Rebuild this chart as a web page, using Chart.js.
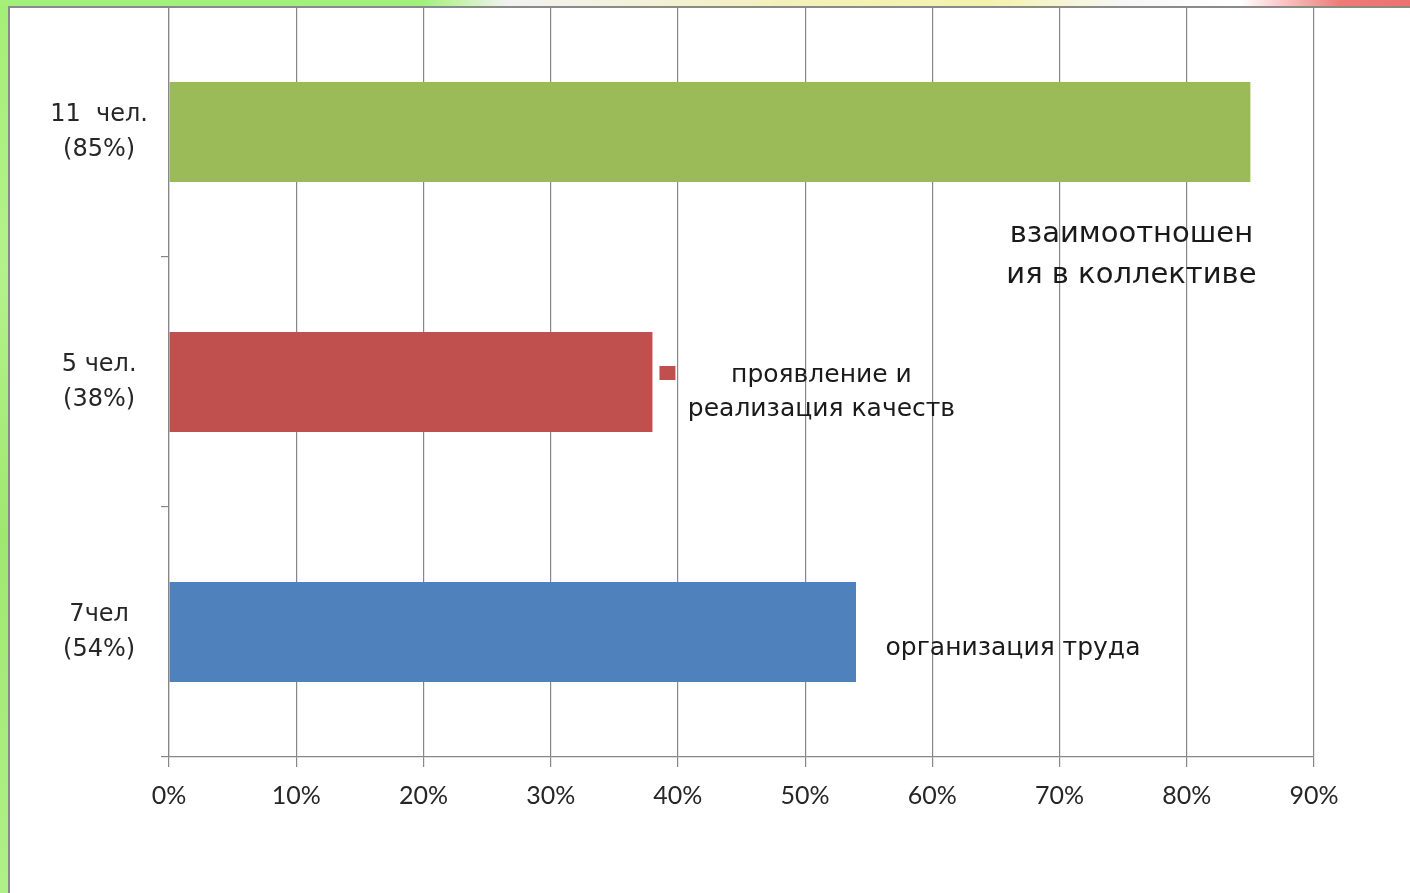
<!DOCTYPE html>
<html>
<head>
<meta charset="utf-8">
<script src="https://cdn.jsdelivr.net/npm/chart.js@4"></script>
<style>
  html, body { margin: 0; padding: 0; background: #ffffff; width: 1410px; height: 893px; overflow: hidden; position: relative; }
  #leftStrip { position: absolute; left: 0; top: 0; width: 8px; height: 893px;
    background: linear-gradient(180deg, #a4ee76 0%, #b4f28c 30%, #9fe870 60%, #b0f088 100%); }
  #leftLine { position: absolute; left: 8px; top: 6px; width: 2px; height: 887px; background: #8a8a8a; }
  #topStrip { position: absolute; left: 0; top: 0; width: 1410px; height: 6px;
    background: linear-gradient(90deg, #a6f07a 0%, #a6f07a 30%, #f2f2f2 36%, #f3f0c0 55%, #f4f2b0 70%, #f7f7f7 80%, #ffffff 88%, #f07a78 95%, #f07070 100%); }
  #topLine { position: absolute; left: 8px; top: 6px; width: 1402px; height: 2px; background: #8a8a8a; }
  canvas { position: absolute; left: 0; top: 0; }
</style>
</head>
<body>
<div id="leftStrip"></div>
<div id="topStrip"></div>
<div id="leftLine"></div>
<div id="topLine"></div>
<canvas id="c" width="1410" height="893"></canvas>
<script>
// ---- data ----
const categories = [['11  чел.', '(85%)'], ['5 чел.', '(38%)'], ['7чел', '(54%)']];
const seriesNames = ['организация труда', 'проявление и реализация качеств', 'взаимоотношения в коллективе'];
const seriesLabelLines = [['организация труда'], ['проявление и', 'реализация качеств'], ['взаимоотношен', 'ия в коллективе']];
const organizatsiyaTruda = [null, null, 0.54];
const proyavlenieKachestv = [null, 0.38, null];
const vzaimootnosheniya = [0.85, null, null];
const seriesColors = ['#4F81BD', '#C0504D', '#9BBB59'];
const xTickValues = [0, 0.1, 0.2, 0.3, 0.4, 0.5, 0.6, 0.7, 0.8, 0.9];

// ---- label styling (positions relative to each bar) ----
const labelStyles = [
  { dx: 157, dy: [16], size: 25, key: false },
  { dx: 169, dy: [-7, 27], size: 25, key: true },
  { dx: -119, dy: [102, 143], size: 29, key: false }
];

const dataLabelPlugin = {
  id: 'dataLabels',
  afterDatasetsDraw(chart) {
    const ctx = chart.ctx;
    chart.data.datasets.forEach((ds, i) => {
      const meta = chart.getDatasetMeta(i);
      const st = labelStyles[i];
      ds.data.forEach((v, j) => {
        if (v === null || v === undefined) return;
        const el = meta.data[j];
        ctx.save();
        if (st.key) {
          ctx.fillStyle = ds.backgroundColor;
          ctx.fillRect(el.x + 7, el.y - 16, 16, 14);
        }
        ctx.fillStyle = '#1a1a1a';
        ctx.font = st.size + 'px "DejaVu Sans"';
        ctx.textAlign = 'center';
        ctx.textBaseline = 'middle';
        seriesLabelLines[i].forEach((line, k) => {
          ctx.fillText(line, el.x + st.dx, el.y + st.dy[k]);
        });
        ctx.restore();
      });
    });
  }
};

const gridColor = '#878787';

new Chart(document.getElementById('c'), {
  type: 'bar',
  data: {
    labels: categories,
    datasets: [
      { label: seriesNames[0], data: organizatsiyaTruda, backgroundColor: seriesColors[0] },
      { label: seriesNames[1], data: proyavlenieKachestv, backgroundColor: seriesColors[1] },
      { label: seriesNames[2], data: vzaimootnosheniya, backgroundColor: seriesColors[2] }
    ]
  },
  options: {
    indexAxis: 'y',
    responsive: false,
    animation: false,
    devicePixelRatio: 1,
    layout: { padding: { top: 7, right: 96, left: 0, bottom: 0 } },
    datasets: { bar: { grouped: false, categoryPercentage: 0.4, barPercentage: 1.0, borderWidth: 0 } },
    plugins: {
      legend: { display: false },
      tooltip: { enabled: false },
      title: { display: false }
    },
    scales: {
      x: {
        type: 'linear',
        min: 0,
        max: 0.9,
        afterBuildTicks(scale) { scale.ticks = xTickValues.map(v => ({ value: v })); },
        afterFit(scale) { scale.height = 893 - 757; },
        grid: { color: gridColor, lineWidth: 1.2, drawTicks: true, tickLength: 10, tickColor: gridColor },
        border: { display: true, color: gridColor, width: 1.2 },
        ticks: {
          font: { family: 'Lato', size: 25 },
          color: '#262626',
          padding: 14,
          maxRotation: 0,
          callback: (v) => Math.round(v * 100) + '%'
        }
      },
      y: {
        type: 'category',
        offset: true,
        afterFit(scale) { scale.width = 169; scale.paddingTop = 0; scale.paddingBottom = 0; },
        grid: { display: true, drawOnChartArea: false, drawTicks: true, tickLength: 8, offset: true, color: gridColor, tickColor: gridColor, lineWidth: 1.2 },
        border: { display: true, color: gridColor, width: 1.2 },
        ticks: {
          font: { family: 'DejaVu Sans', size: 24, lineHeight: 1.45 },
          color: '#262626',
          crossAlign: 'center',
          padding: 13
        }
      }
    }
  },
  plugins: [dataLabelPlugin]
});
</script>
</body>
</html>
